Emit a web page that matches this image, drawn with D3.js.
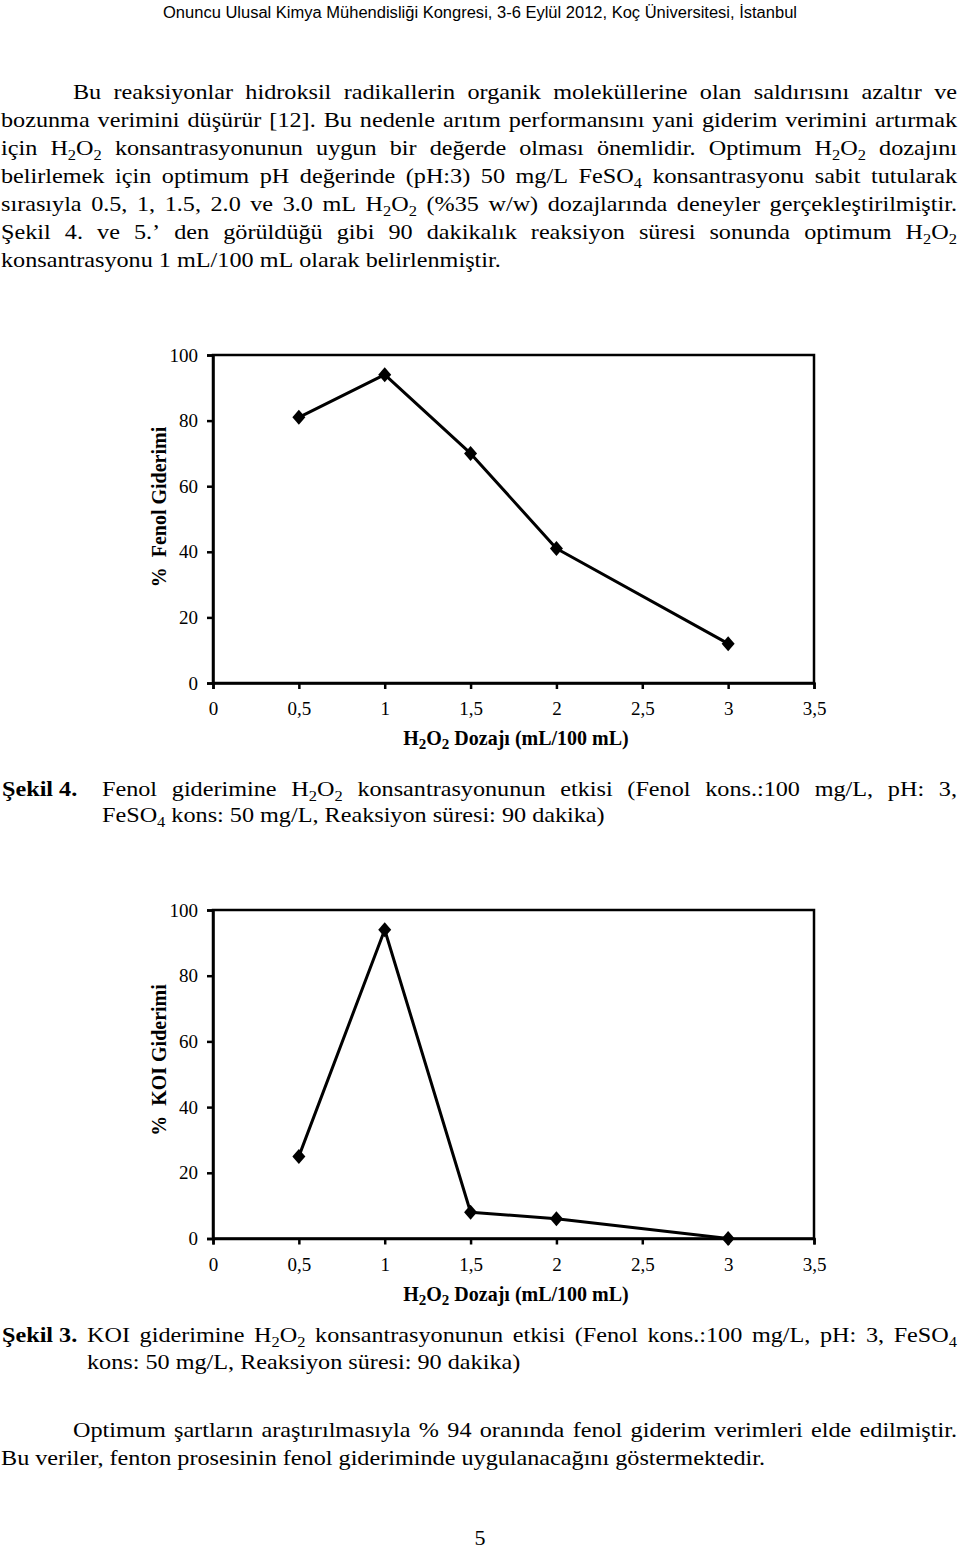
<!DOCTYPE html>
<html>
<head>
<meta charset="utf-8">
<script src="https://cdn.jsdelivr.net/npm/d3@7/dist/d3.min.js"></script>
<style>
  html, body { margin: 0; padding: 0; background: #fff; }
  svg { display: block; }
</style>
</head>
<body>
<svg id="page" width="960" height="1550"></svg>
<script>
// ---------------- DATA ----------------
const doses = [0.5, 1, 1.5, 2, 3];
const fenolRemoval = [81, 94, 70, 41, 12];
const koiRemoval = [25, 94, 8, 6, 0];
const xTicks = [0, 0.5, 1, 1.5, 2, 2.5, 3, 3.5];
const xTickLabels = ["0", "0,5", "1", "1,5", "2", "2,5", "3", "3,5"];
const yTicks = [0, 20, 40, 60, 80, 100];
const xTitle = "H_2O_2 Dozajı (mL/100 mL)";
const yTitle1 = "%  Fenol Giderimi";
const yTitle2 = "%  KOI Giderimi";

const headerText = "Onuncu Ulusal Kimya Mühendisliği Kongresi, 3-6 Eylül 2012, Koç Üniversitesi, İstanbul";
const para1 = [
  "Bu reaksiyonlar hidroksil radikallerin organik moleküllerine olan saldırısını azaltır ve",
  "bozunma verimini düşürür [12]. Bu nedenle arıtım performansını yani giderim verimini artırmak",
  "için H_2O_2 konsantrasyonunun uygun bir değerde olması önemlidir. Optimum H_2O_2 dozajını",
  "belirlemek için optimum pH değerinde (pH:3) 50 mg/L FeSO_4 konsantrasyonu sabit tutularak",
  "sırasıyla 0.5, 1, 1.5, 2.0 ve 3.0 mL H_2O_2 (%35 w/w) dozajlarında deneyler gerçekleştirilmiştir.",
  "Şekil 4. ve 5.’ den görüldüğü gibi 90 dakikalık reaksiyon süresi sonunda optimum H_2O_2",
  "konsantrasyonu 1 mL/100 mL olarak belirlenmiştir."
];
const caption4Label = "Şekil 4.";
const caption4 = [
  "Fenol giderimine H_2O_2 konsantrasyonunun etkisi (Fenol kons.:100 mg/L, pH: 3,",
  "FeSO_4 kons: 50 mg/L, Reaksiyon süresi: 90 dakika)"
];
const caption3Label = "Şekil 3.";
const caption3 = [
  "KOI giderimine H_2O_2 konsantrasyonunun etkisi (Fenol kons.:100 mg/L, pH: 3, FeSO_4",
  "kons: 50 mg/L, Reaksiyon süresi: 90 dakika)"
];
const para2 = [
  "Optimum şartların araştırılmasıyla % 94 oranında fenol giderim verimleri elde edilmiştir.",
  "Bu veriler, fenton prosesinin fenol gideriminde uygulanacağını göstermektedir."
];
const pageNumber = "5";

// ---------------- HELPERS ----------------
const svg = d3.select("#page");
svg.append("rect").attr("width", 960).attr("height", 1550).attr("fill", "#fff");
const SERIF = "'Liberation Serif', 'Times New Roman', Times, serif";
const SX = 1.1; // horizontal stretch of the body text

function segments(word) {
  const out = [];
  const re = /_(\d)/g;
  let last = 0, m;
  while ((m = re.exec(word)) !== null) {
    if (m.index > last) out.push([word.slice(last, m.index), false]);
    out.push([m[1], true]);
    last = re.lastIndex;
  }
  if (last < word.length) out.push([word.slice(last), false]);
  return out;
}

function richText(parent, str, fs, weight, subScale) {
  const ss = subScale || 0.68;
  const t = parent.append("text")
    .attr("font-family", SERIF)
    .attr("font-size", fs)
    .attr("font-weight", weight || "normal")
    .attr("fill", "#000");
  let inSub = false;
  segments(str).forEach(([s, sub]) => {
    const ts = t.append("tspan").text(s);
    if (sub && !inSub) { ts.attr("dy", fs * 0.22).attr("font-size", fs * ss); inSub = true; }
    else if (sub) { ts.attr("font-size", fs * ss); }
    else if (!sub && inSub) { ts.attr("dy", -fs * 0.22); inSub = false; }
  });
  return t;
}

function textLine(parent, str, x0, x1, y, fs, justify, weight) {
  const g = parent.append("g").attr("transform", `scale(${SX},1)`);
  const a = x0 / SX, b = x1 / SX;
  const words = str.split(" ").filter(w => w.length);
  const nodes = words.map(w => richText(g, w, fs, weight).attr("y", y));
  const widths = nodes.map(n => n.node().getComputedTextLength());
  const total = d3.sum(widths);
  const gap = (justify && words.length > 1) ? (b - a - total) / (words.length - 1) : fs * 0.25;
  let x = a;
  nodes.forEach((n, i) => { n.attr("x", x); x += widths[i] + gap; });
}

// ---------------- TEXT ----------------
svg.append("text")
  .attr("x", 480).attr("y", 18)
  .attr("text-anchor", "middle")
  .attr("font-family", "'Liberation Sans Narrow', 'Arial Narrow', 'Liberation Sans', Arial, sans-serif")
  .attr("font-size", 16)
  .attr("textLength", 634)
  .attr("lengthAdjust", "spacingAndGlyphs")
  .text(headerText);

const bodyFS = 22;
const para1Y = [99, 127, 155, 183, 211, 239, 267];
para1.forEach((line, i) => {
  const last = i === para1.length - 1;
  textLine(svg, line, i === 0 ? 73 : 1, 957, para1Y[i], bodyFS, !last);
});

// captions
textLine(svg, caption4Label, 2, 80, 796, bodyFS, false, "bold");
textLine(svg, caption4[0], 102, 957, 796, bodyFS, true);
textLine(svg, caption4[1], 102, 957, 822, bodyFS, false);

textLine(svg, caption3Label, 2, 80, 1342, bodyFS, false, "bold");
textLine(svg, caption3[0], 87, 957, 1342, bodyFS, true);
textLine(svg, caption3[1], 87, 957, 1369, bodyFS, false);

textLine(svg, para2[0], 73, 957, 1437, bodyFS, true);
textLine(svg, para2[1], 1, 957, 1465, bodyFS, false);

svg.append("text").attr("x", 480).attr("y", 1545).attr("text-anchor", "middle")
  .attr("font-family", SERIF).attr("font-size", bodyFS).text(pageNumber);

// ---------------- CHARTS ----------------
function drawChart(top, bottom, values, yTitle, yTitleCenter) {
  const left = 213, right = 814;
  const x = d3.scaleLinear().domain([0, 3.5]).range([left, right]);
  const y = d3.scaleLinear().domain([0, 100]).range([bottom, top]);
  const g = svg.append("g");

  // frame
  g.append("rect")
    .attr("x", left).attr("y", top)
    .attr("width", right - left).attr("height", bottom - top)
    .attr("fill", "none").attr("stroke", "#000").attr("stroke-width", 2.5);

  const fs = 19;
  const yAxis = d3.axisLeft(y).tickValues(yTicks).tickSize(6).tickPadding(9).tickFormat(d3.format("d"));
  const ya = g.append("g").attr("transform", `translate(${left},0)`).call(yAxis);
  const xAxis = d3.axisBottom(x).tickValues(xTicks).tickSize(6).tickPadding(13)
    .tickFormat((d, i) => xTickLabels[i]);
  const xa = g.append("g").attr("transform", `translate(0,${bottom})`).call(xAxis);
  [ya, xa].forEach(a => {
    a.select(".domain").attr("stroke", "#000").attr("stroke-width", 2.5);
    a.selectAll(".tick line").attr("stroke", "#000").attr("stroke-width", 2.5);
    a.selectAll(".tick text").attr("font-family", SERIF).attr("font-size", fs).attr("fill", "#000");
  });

  // line
  const pts = doses.map((d, i) => [d, values[i]]);
  g.append("path")
    .datum(pts)
    .attr("fill", "none").attr("stroke", "#000").attr("stroke-width", 3)
    .attr("stroke-linejoin", "round")
    .attr("d", d3.line().x(d => x(d[0])).y(d => y(d[1])));
  g.selectAll(".mk").data(pts).enter().append("path")
    .attr("transform", d => `translate(${x(d[0])},${y(d[1])})`)
    .attr("d", "M0,-7.5L6.5,0L0,7.5L-6.5,0Z")
    .attr("fill", "#000");

  // titles
  const xt = richText(g, xTitle, 20, "bold", 0.75);
  xt.attr("text-anchor", "middle").attr("x", 516).attr("y", bottom + 62);
  g.append("text")
    .attr("transform", `translate(166,${yTitleCenter}) rotate(-90)`)
    .attr("text-anchor", "middle")
    .attr("font-family", SERIF).attr("font-size", 20).attr("font-weight", "bold")
    .style("white-space", "pre")
    .text(yTitle);
}

drawChart(355, 683, fenolRemoval, yTitle1, 507);
drawChart(910, 1238.5, koiRemoval, yTitle2, 1060);
</script>
</body>
</html>
